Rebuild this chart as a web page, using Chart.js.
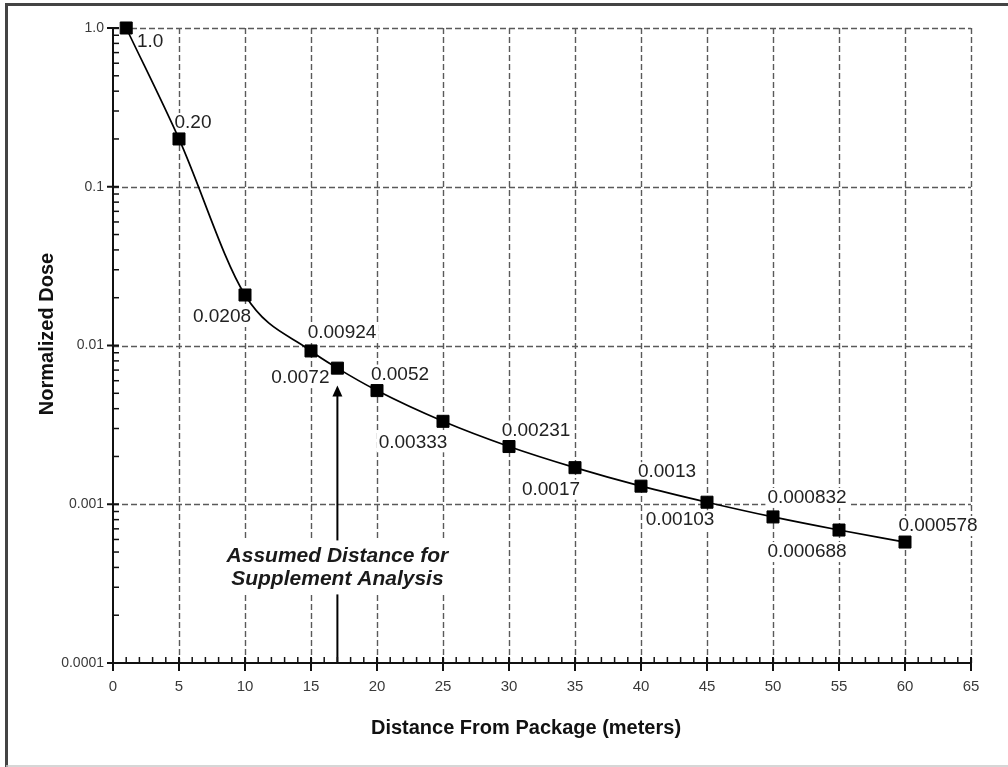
<!DOCTYPE html>
<html><head><meta charset="utf-8">
<script src="https://cdn.jsdelivr.net/npm/chart.js@4.4.0/dist/chart.umd.min.js"></script>
<style>html,body{margin:0;padding:0;background:#fff;}canvas{display:block;}</style>
</head><body>
<canvas id="c" width="1008" height="767"></canvas>
<script>
// ---- data ----
const distances = [1, 5, 10, 15, 17, 20, 25, 30, 35, 40, 45, 50, 55, 60];
const doses = [1.0, 0.20, 0.0208, 0.00924, 0.0072, 0.0052, 0.00333, 0.00231, 0.0017, 0.0013, 0.00103, 0.000832, 0.000688, 0.000578];
const pointLabels = ['1.0', '0.20', '0.0208', '0.00924', '0.0072', '0.0052', '0.00333', '0.00231', '0.0017', '0.0013', '0.00103', '0.000832', '0.000688', '0.000578'];
const xTicks = [0, 5, 10, 15, 20, 25, 30, 35, 40, 45, 50, 55, 60, 65];
const xTickLabels = ['0', '5', '10', '15', '20', '25', '30', '35', '40', '45', '50', '55', '60', '65'];
const yTicks = [0.0001, 0.001, 0.01, 0.1, 1];
const yTickLabels = ['0.0001', '0.001', '0.01', '0.1', '1.0'];
const annotationX = 17;
const annotationTip = 0.0056;
const annotationTextAt = 0.0004;
const annotationText = ['Assumed Distance for', 'Supplement Analysis'];
const xTitle = 'Distance From Package (meters)';
const yTitle = 'Normalized Dose';

// ---- layout (pixel offsets of point labels) ----
const labelOffsets = [[24,14],[14,-16],[-23,22],[31,-18],[-37,10],[23,-16],[-30,21],[27,-16],[-24,22],[26,-14],[-27,18],[34,-19],[-32,22],[33,-16]];
const FONT = '"Liberation Sans", Arial, Helvetica, sans-serif';

const decor = {
  id: 'decor',
  beforeDraw(chart) {
    const ctx = chart.ctx;
    ctx.save();
    ctx.fillStyle = '#fff';
    ctx.fillRect(0, 0, chart.width, chart.height);
    ctx.strokeStyle = '#444';
    ctx.lineWidth = 3;
    ctx.beginPath();
    ctx.moveTo(6.5, 767); ctx.lineTo(6.5, 4.5); ctx.lineTo(1008, 4.5);
    ctx.stroke();
    ctx.strokeStyle = '#c8c8c8';
    ctx.lineWidth = 1.5;
    ctx.beginPath();
    ctx.moveTo(6, 766); ctx.lineTo(1008, 766);
    ctx.stroke();
    ctx.restore();
  },
  beforeDatasetsDraw(chart) {
    const {ctx, chartArea: a, scales: {x, y}} = chart;
    ctx.save();
    // dashed grid
    ctx.strokeStyle = '#5a5a5a';
    ctx.lineWidth = 1.4;
    ctx.setLineDash([6, 3]);
    xTicks.slice(1).forEach(v => {
      const px = Math.round(x.getPixelForValue(v)) + 0.5;
      ctx.beginPath(); ctx.moveTo(px, a.top); ctx.lineTo(px, a.bottom); ctx.stroke();
    });
    yTicks.slice(1).forEach(v => {
      const py = Math.round(y.getPixelForValue(v)) + 0.5;
      ctx.beginPath(); ctx.moveTo(a.left, py); ctx.lineTo(a.right, py); ctx.stroke();
    });
    ctx.setLineDash([]);
    // arrow
    const ax = x.getPixelForValue(annotationX);
    const y0 = y.getPixelForValue(yTicks[0]);
    const yt = y.getPixelForValue(annotationTip);
    ctx.strokeStyle = '#000';
    ctx.lineWidth = 2;
    ctx.beginPath(); ctx.moveTo(ax, y0); ctx.lineTo(ax, yt + 9); ctx.stroke();
    ctx.fillStyle = '#000';
    ctx.beginPath(); ctx.moveTo(ax, yt); ctx.lineTo(ax - 5, yt + 11); ctx.lineTo(ax + 5, yt + 11); ctx.closePath(); ctx.fill();
    // annotation text
    ctx.font = 'italic bold 21px ' + FONT;
    const ty = y.getPixelForValue(annotationTextAt);
    const w = Math.max(...annotationText.map(t => ctx.measureText(t).width));
    ctx.fillStyle = '#fff';
    ctx.fillRect(ax - w / 2 - 10, ty - 27, w + 20, 54);
    ctx.fillStyle = '#1a1a1a';
    ctx.textAlign = 'center';
    ctx.textBaseline = 'middle';
    annotationText.forEach((t, i) => ctx.fillText(t, ax, ty + (i - 0.5) * 23));
    // point labels
    const meta = chart.getDatasetMeta(0);
    ctx.font = '19px ' + FONT;
    meta.data.forEach((pt, i) => {
      const [dx, dy] = labelOffsets[i];
      const cx = pt.x + dx, cy = pt.y + dy;
      const tw = ctx.measureText(pointLabels[i]).width;
      ctx.fillStyle = '#fff';
      ctx.fillRect(cx - tw / 2 - 2, cy - 10, tw + 4, 20);
      ctx.fillStyle = '#222';
      ctx.fillText(pointLabels[i], cx, cy);
    });
    ctx.restore();
  },
  afterDatasetsDraw(chart) {
    const {ctx, chartArea: a, scales: {x, y}} = chart;
    ctx.save();
    ctx.strokeStyle = '#111';
    ctx.lineWidth = 2;
    ctx.beginPath();
    ctx.moveTo(a.left, a.top); ctx.lineTo(a.left, a.bottom); ctx.lineTo(a.right, a.bottom);
    ctx.stroke();
    // x ticks
    for (let v = xTicks[0]; v <= xTicks[xTicks.length - 1]; v += 1) {
      const px = x.getPixelForValue(v);
      const major = xTicks.includes(v);
      ctx.beginPath();
      ctx.moveTo(px, a.bottom - 6);
      ctx.lineTo(px, major ? a.bottom + 8 : a.bottom);
      ctx.lineWidth = major ? 2 : 1.5;
      ctx.stroke();
    }
    // y ticks
    for (let k = 0; k < yTicks.length; k++) {
      const base = yTicks[k];
      const py = y.getPixelForValue(base);
      ctx.lineWidth = 2;
      ctx.beginPath(); ctx.moveTo(a.left - 6, py); ctx.lineTo(a.left + 6, py); ctx.stroke();
      if (k < yTicks.length - 1) {
        ctx.lineWidth = 1.5;
        for (let m = 2; m <= 9; m++) {
          const pm = y.getPixelForValue(base * m);
          ctx.beginPath(); ctx.moveTo(a.left, pm); ctx.lineTo(a.left + 6, pm); ctx.stroke();
        }
      }
    }
    // axis titles
    ctx.fillStyle = '#111';
    ctx.font = 'bold 20px ' + FONT;
    ctx.textAlign = 'center';
    ctx.textBaseline = 'middle';
    ctx.fillText(xTitle, 526, 728);
    ctx.translate(47, 334);
    ctx.rotate(-Math.PI / 2);
    ctx.fillText(yTitle, 0, 0);
    ctx.restore();
  }
};

new Chart(document.getElementById('c'), {
  type: 'line',
  data: {
    datasets: [{
      data: distances.map((d, i) => ({x: d, y: doses[i]})),
      borderColor: '#000',
      borderWidth: 1.7,
      cubicInterpolationMode: 'monotone',
      pointStyle: 'rect',
      pointRadius: 8.5,
      pointHoverRadius: 8.5,
      pointBackgroundColor: '#000',
      pointBorderColor: '#000',
      pointBorderWidth: 1,
      clip: false
    }]
  },
  options: {
    responsive: false,
    animation: false,
    devicePixelRatio: 1,
    layout: {padding: {top: 28, right: 37, left: 0, bottom: 0}},
    plugins: {legend: {display: false}, tooltip: {enabled: false}},
    events: [],
    scales: {
      x: {
        type: 'linear', min: 0, max: 65,
        afterBuildTicks: s => { s.ticks = xTicks.map(v => ({value: v})); },
        afterFit: s => { s.height = 104; },
        grid: {display: false, drawTicks: false},
        border: {display: false},
        ticks: {padding: 15, color: '#3a3a3a', autoSkip: false, maxRotation: 0,
          font: {size: 15, family: FONT}, callback: (v, i) => xTickLabels[i]}
      },
      y: {
        type: 'logarithmic', min: 0.0001, max: 1,
        afterBuildTicks: s => { s.ticks = yTicks.map(v => ({value: v})); },
        afterFit: s => { s.width = 113; },
        grid: {display: false, drawTicks: false},
        border: {display: false},
        ticks: {padding: 9, color: '#3a3a3a', autoSkip: false,
          font: {size: 14, family: FONT}, callback: (v, i) => yTickLabels[i]}
      }
    }
  },
  plugins: [decor]
});
</script>
</body></html>
